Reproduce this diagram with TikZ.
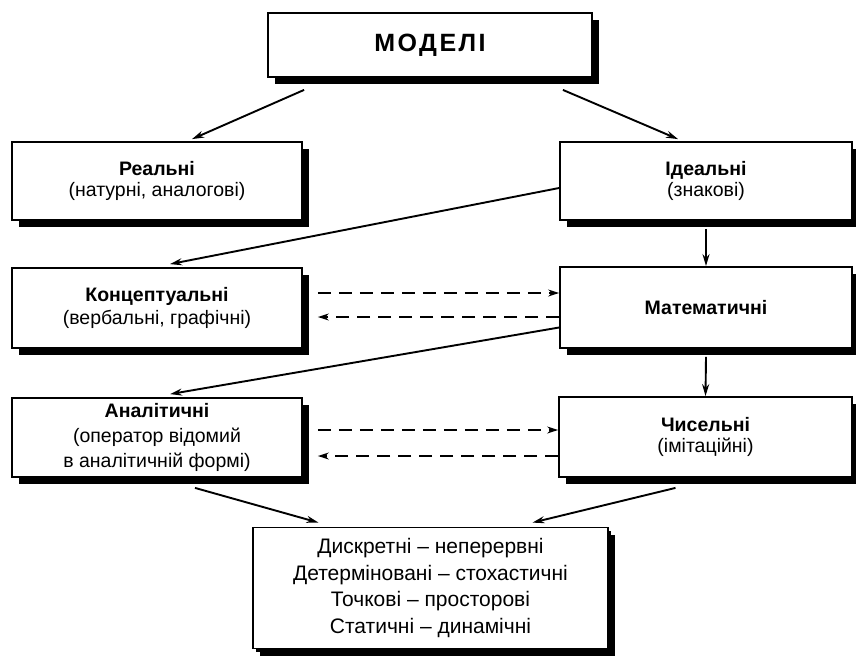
\documentclass[tikz,border=0pt]{standalone}
\usepackage{fontspec}
\setmainfont{Liberation Sans}
\usetikzlibrary{arrows.meta,shadows,calc}
\tikzset{
  box/.style={draw=black, line width=1.8pt, fill=white, rectangle, align=center,
    inner sep=0pt, font=\fontsize{19.5}{21.5}\selectfont,
    drop shadow={shadow xshift=7pt, shadow yshift=-7pt, fill=black, opacity=1}},
  arr/.style={line width=1.9pt, -{Stealth[length=12pt,width=7pt]}},
  darr/.style={line width=1.5pt, dash pattern=on 13pt off 8pt, -{Stealth[length=11pt,width=7pt]}},
}
\begin{document}
\begin{tikzpicture}[x=1pt,y=-1pt]
\useasboundingbox (0,0) rectangle (856,659);
\node[box, minimum width=324pt, minimum height=64pt] (top) at (430,45)
  {\fontsize{25}{29}\selectfont\bfseries\addfontfeature{LetterSpace=10}МОДЕЛІ};
\node[box, minimum width=290pt, minimum height=78pt] (real) at (157,181)
  {\textbf{Реальні}\\(натурні, аналогові)};
\node[box, minimum width=292pt, minimum height=78pt] (ideal) at (706,181)
  {\textbf{Ідеальні}\\(знакові)};
\node[box, minimum width=290pt, minimum height=80pt, font=\fontsize{19.5}{23}\selectfont] (konc) at (157,308)
  {\textbf{Концептуальні}\\(вербальні, графічні)};
\node[box, minimum width=292pt, minimum height=81pt] (math) at (706,307.5)
  {\textbf{Математичні}};
\node[box, minimum width=290pt, minimum height=79pt, font=\fontsize{19.5}{25}\selectfont] (anal) at (157,437.5)
  {\textbf{Аналітичні}\\(оператор відомий\\в аналітичній формі)};
\node[box, minimum width=293pt, minimum height=80pt] (chys) at (705.5,437)
  {\textbf{Чисельні}\\(імітаційні)};
\node[box, minimum width=355pt, minimum height=121pt, font=\fontsize{21}{26.5}\selectfont,
  drop shadow={shadow xshift=3pt, shadow yshift=-3pt, fill=black, opacity=1}] (bot) at (430.5,588)
  {Дискретні – неперервні\\Детерміновані – стохастичні\\Точкові – просторові\\Статичні – динамічні};

\draw[arr] ([xshift=37pt,yshift=-12pt]top.south west) -- ([xshift=35pt,yshift=2pt]real.north);
\draw[arr] ([xshift=-30pt,yshift=-12pt]top.south east) -- ([xshift=-28pt,yshift=2pt]ideal.north);
\draw[arr] ([yshift=-7pt]ideal.west) -- ([xshift=13pt,yshift=3pt]konc.north);
\draw[arr] ([yshift=-8pt]ideal.south) -- (math.north);
\draw[arr] ([yshift=-20pt]math.west) -- ([xshift=13pt,yshift=3pt]anal.north);
\draw[arr] ([yshift=-8pt]math.south) -- (chys.north);
\draw[arr] ([xshift=38pt,yshift=-10pt]anal.south) -- ([xshift=-112pt,yshift=4pt]bot.north);
\draw[arr] ([xshift=-30pt,yshift=-10pt]chys.south) -- ([xshift=102pt,yshift=4pt]bot.north);

\draw[darr] ([xshift=15pt,yshift=15pt]konc.east) -- ([yshift=14.5pt]math.west);
\draw[darr] ([yshift=-9.5pt]math.west) -- ([xshift=15pt,yshift=-9pt]konc.east);
\draw[darr] ([xshift=15pt,yshift=7.5pt]anal.east) -- ([yshift=7pt]chys.west);
\draw[darr] ([yshift=-19pt]chys.west) -- ([xshift=15pt,yshift=-18.5pt]anal.east);
\end{tikzpicture}
\end{document}
